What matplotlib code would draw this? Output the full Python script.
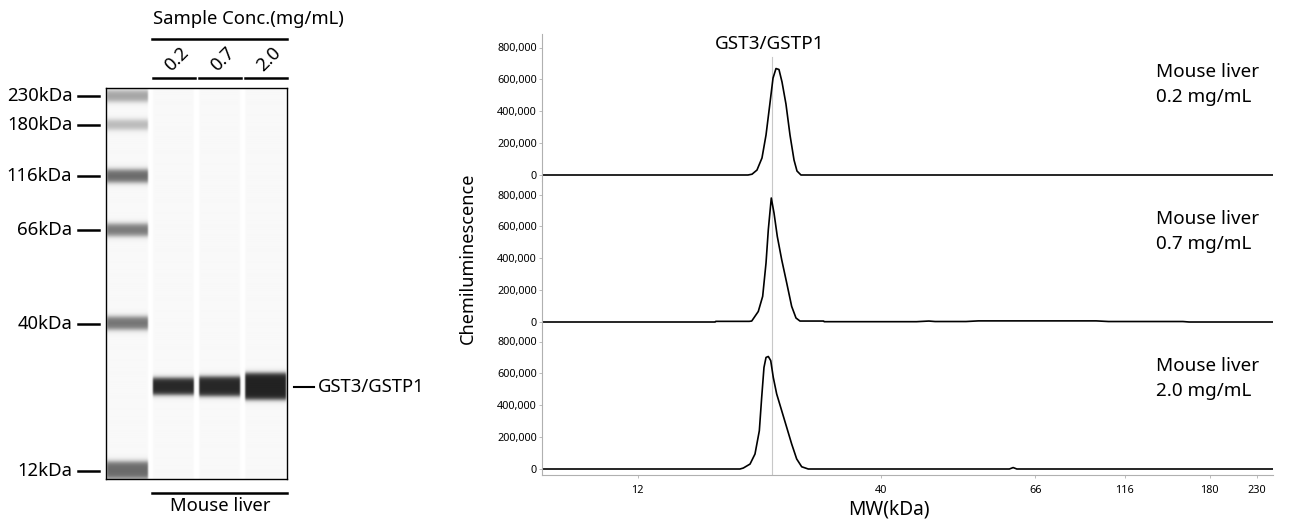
import numpy as np
import matplotlib
matplotlib.use('Agg')
import matplotlib.pyplot as plt
from matplotlib.ticker import FuncFormatter

plt.rcParams['font.family'] = ['Noto Sans', 'DejaVu Sans']

# ladder markers: kDa and relative migration (12kDa = 0, 230kDa = 1)
ladder_kda = [12, 40, 66, 116, 180, 230]
ladder_pos = [0.0, 0.393, 0.642, 0.786, 0.923, 1.0]
ladder_intensity = [0.56, 0.52, 0.50, 0.56, 0.25, 0.33]
ladder_thick = [0.046, 0.034, 0.032, 0.034, 0.026, 0.030]

sample_conc = ['0.2', '0.7', '2.0']
sample_name = 'Mouse liver'
target = 'GST3/GSTP1'
band_pos = 0.224
band_intensity = [0.82, 0.82, 0.84]
band_thick = [0.045, 0.052, 0.071]
peak_pos = 0.216

# electropherogram traces (migration position, chemiluminescence)
trace1_x = [-0.155, 0.178, 0.1845, 0.1925, 0.2006, 0.2071, 0.2135, 0.2184, 0.2232,
            0.2280, 0.2329, 0.2393, 0.2458, 0.2523, 0.2571, 0.2635, 1.025]
trace1_y = [0, 0, 5000, 31000, 107000, 251000, 452000, 608000, 668000,
            662000, 584000, 445000, 251000, 94000, 25000, 0, 0]

trace2_x = [-0.155, 0.125, 0.126, 0.180, 0.184, 0.1946, 0.2017, 0.2071, 0.2108, 0.2156,
            0.2200, 0.2253, 0.2324, 0.2405, 0.2485, 0.2555, 0.2619, 0.30, 0.301,
            0.45, 0.47, 0.48, 0.53, 0.55, 0.74, 0.76, 0.88, 0.89, 1.025]
trace2_y = [0, 0, 4000, 4000, 6000, 66000, 161000, 370000, 579000, 778000,
            684000, 537000, 391000, 245000, 98000, 25000, 6000, 6000, 2000,
            2000, 6000, 3000, 3000, 7000, 7000, 3000, 3000, 0, 0]

trace3_x = [-0.155, 0.165, 0.1704, 0.1813, 0.1893, 0.1963, 0.2001, 0.2038, 0.2071,
            0.2108, 0.2147, 0.2188, 0.2243, 0.2324, 0.2405, 0.2485, 0.2566, 0.2647,
            0.2753, 0.60, 0.606, 0.612, 1.025]
trace3_y = [0, 0, 6000, 31000, 94000, 240000, 449000, 637000, 700000,
            706000, 680000, 575000, 471000, 366000, 261000, 157000, 63000, 14000,
            0, 0, 9000, 0, 0]

traces = [(trace1_x, trace1_y), (trace2_x, trace2_y), (trace3_x, trace3_y)]

fig = plt.figure(figsize=(12.97, 5.27), dpi=100)

# ---------------- gel view ----------------
gx = fig.add_axes([106.3 / 1297, 1 - 479.3 / 527, 181 / 1297, 391.6 / 527])
ylo, yhi = -0.023, 1.023
lane_centers = [21.5, 67.4, 113.7, 159.7]
lane_w = 41

cols = np.arange(0, 181, 0.5) + 0.25
rows = np.linspace(yhi, ylo, 800)
img = np.zeros((len(rows), len(cols)))


def soft_box(v, c, w, s):
    return 0.5 * (np.tanh((w / 2 - np.abs(v - c)) / s) + 1)


R, C = np.meshgrid(rows, cols, indexing='ij')
for k, lc in enumerate(lane_centers):
    lane = soft_box(C, lc, lane_w, 0.8)
    img += 0.025 * lane
    if k == 0:
        for p, it, th in zip(ladder_pos, ladder_intensity, ladder_thick):
            img += it * lane * soft_box(R, p, th, 0.008)
    else:
        img += band_intensity[k - 1] * lane * soft_box(R, band_pos, band_thick[k - 1], 0.007)
img = np.clip(img, 0, 1)
gx.imshow(1 - img, cmap='gray', vmin=0, vmax=1, aspect='auto',
          extent=[0, 181, ylo, yhi], interpolation='bilinear')
gx.set_xlim(0, 181)
gx.set_ylim(ylo, yhi)
gx.set_xticks([])
gx.set_yticks([])
for sp in gx.spines.values():
    sp.set_linewidth(1.0)
    sp.set_color('black')

fs = 13.3
for kda, p in zip(ladder_kda, ladder_pos):
    gx.plot([-28, -7], [p, p], color='black', lw=1.8, clip_on=False)
    gx.text(-34, p, f'{kda}kDa', ha='right', va='center', fontsize=fs)

gx.plot([187.7, 207.7], [band_pos, band_pos], color='black', lw=1.5, clip_on=False)
gx.text(211.5, band_pos, target, ha='left', va='center', fontsize=fs)

# header: sample concentrations
gx.text(141.7, 1.206, 'Sample Conc.(mg/mL)', ha='center', va='center', fontsize=fs)
gx.plot([45.7, 180.7], [1.152, 1.152], color='black', lw=1.8, clip_on=False)
for lc, conc in zip(lane_centers[1:], sample_conc):
    gx.plot([lc - 21, lc + 21], [1.049, 1.049], color='black', lw=1.8, clip_on=False)
    gx.text(lc + 3, 1.098, conc, rotation=45, ha='center', va='center', fontsize=fs)

gx.plot([45.7, 180.7], [-0.059, -0.059], color='black', lw=1.8, clip_on=False)
gx.text(113.7, -0.071, sample_name, ha='center', va='top', fontsize=fs)

# ---------------- electropherograms ----------------
left = 541.7 / 1297
width = 731 / 1297
ph = 147 / 527
bottom0 = 1 - 475 / 527
px_per = 800000 / 127.5
ymin = -6 * px_per
ymax = ymin + 147 * px_per
rfs = 13.6

for i, (tx, ty) in enumerate(traces):
    ax = fig.add_axes([left, bottom0 + (2 - i) * ph, width, ph])
    ax.plot(tx, ty, color='black', lw=1.2, solid_joinstyle='round')
    ax.set_xlim(-0.155, 1.025)
    ax.set_ylim(ymin, ymax)
    ax.axvline(peak_pos, ymax=0.844 if i == 0 else 1, color='#c8c8c8', lw=0.8, zorder=0)
    ax.set_yticks([0, 200000, 400000, 600000, 800000])
    ax.yaxis.set_major_formatter(FuncFormatter(lambda v, _: f'{int(v):,}'))
    ax.tick_params(axis='y', labelsize=7.8, length=2, width=0.6, color='#b0b0b0', pad=1.5)
    ax.spines['left'].set_color('#b0b0b0')
    ax.spines['top'].set_visible(False)
    ax.spines['right'].set_visible(False)
    if i < 2:
        ax.spines['bottom'].set_visible(False)
        ax.set_xticks([])
    else:
        ax.spines['bottom'].set_color('#b0b0b0')
        ax.set_xticks(ladder_pos)
        ax.set_xticklabels([str(k) for k in ladder_kda])
        ax.tick_params(axis='x', labelsize=7.8, length=2, width=0.6, color='#b0b0b0', pad=5)
    ax.text(0.840, 0.742, sample_name, transform=ax.transAxes, ha='left', va='center', fontsize=rfs)
    ax.text(0.840, 0.572, f'{sample_conc[i]} mg/mL', transform=ax.transAxes,
            ha='left', va='center', fontsize=rfs)
    if i == 0:
        ax.text(peak_pos - 0.003, 0.932, target, transform=ax.get_xaxis_transform(),
                ha='center', va='center', fontsize=rfs)

fig.text(468 / 1297, 1 - 258 / 527, 'Chemiluminescence', rotation=90,
         ha='center', va='center', fontsize=13.1)
fig.text(889 / 1297, 1 - 510 / 527, 'MW(kDa)', ha='center', va='center', fontsize=13.8)

fig.savefig('out.png', dpi=100)
